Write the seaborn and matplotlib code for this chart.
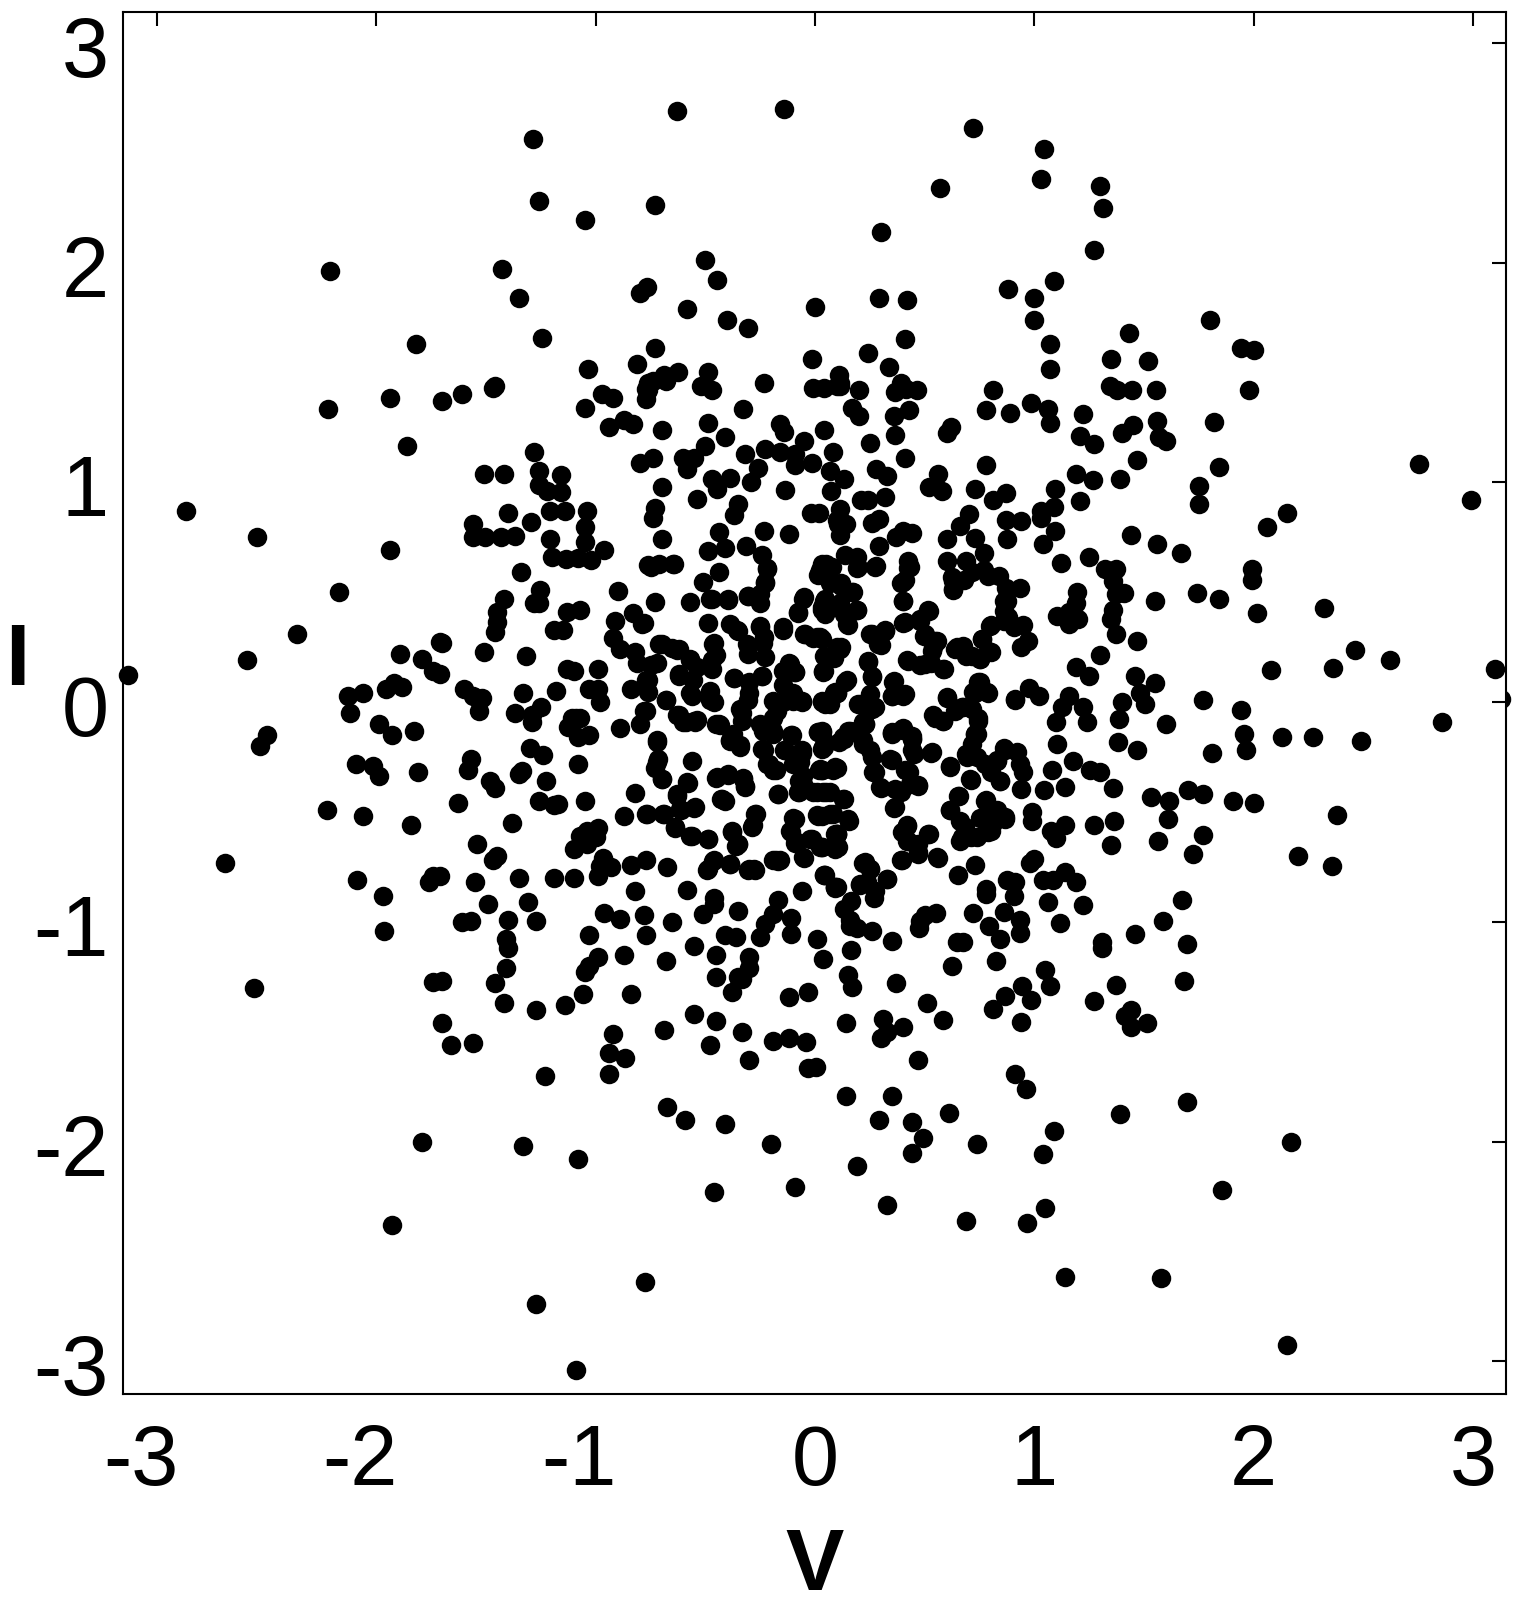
import numpy as np
import pandas as pd
import matplotlib
matplotlib.use('Agg')
import matplotlib.pyplot as plt
import matplotlib.transforms as mtrans
from matplotlib.patches import Rectangle
import seaborn as sns

# (V, I) pairs, one list per region
upper_left = [
    (-1.70,1.37),(-1.61,1.40),(-1.47,1.43),(-1.05,1.34),(-0.97,1.40),(-0.92,1.385),(-0.77,1.38),(-0.77,1.425),
    (-0.74,1.46),(-0.68,1.46),(-0.52,1.44),(-0.47,1.42),(-0.33,1.335),(-0.235,1.45),(-0.01,1.43),(0.04,1.43),
    (0.10,1.44),(-0.94,1.25),(-0.87,1.285),(-0.83,1.265),(-0.70,1.24),(-0.49,1.27),(-0.41,1.205),(-0.16,1.265),
    (-0.14,1.23),(0.04,1.24),(-0.05,1.19),(-1.28,1.14),(-0.50,1.165),(-0.32,1.13),(-0.23,1.15),(-0.16,1.14),
    (-0.09,1.13),(0.08,1.14),(-0.80,1.09),(-0.74,1.11),(-0.60,1.11),(-0.55,1.11),(-0.585,1.06),(-0.09,1.08),
    (-0.016,1.09),(0.07,1.05),(-1.51,1.04),(-1.42,1.04),(-1.26,1.05),(-1.16,1.035),(-1.26,0.99),(-1.22,0.96),
    (-1.16,0.955),(-0.26,1.065),(-0.29,1.0),(-0.47,1.015),(-0.39,1.02),(-0.445,0.97),(-0.135,0.966),(0.075,0.96),
    (-0.70,0.98),(-0.54,0.925),(-0.35,0.90),(-0.37,0.85),(-0.73,0.885),(-0.74,0.84),(-1.40,0.86),(-1.21,0.87),
    (-1.14,0.87),(-1.04,0.87),(-0.02,0.86),(0.02,0.86),(0.10,0.83),(-1.56,0.81),(-1.295,0.82),(-1.05,0.795),
    (-1.56,0.75),(-1.505,0.75),(-1.43,0.75),(-1.37,0.755),(-0.44,0.776),(-0.235,0.78),(-0.12,0.765),(-0.70,0.74),
    (-1.21,0.74),(-1.05,0.73),(-0.49,0.687),(-0.41,0.70),(-0.315,0.71),(-0.24,0.67),(-0.96,0.693),(-1.20,0.66),
    (-1.135,0.65),(-1.08,0.655),(-1.02,0.645),(-0.76,0.625),(-0.71,0.63),(-0.645,0.63),(-0.22,0.61),(-0.44,0.59),
    (0.03,0.63),(0.015,0.58),(-1.34,0.59),(-0.23,0.54),(-0.51,0.545),(-1.255,0.51),(-0.90,0.505),(0.07,0.54),
    (-0.05,0.48),(0.03,0.42),(0.07,0.43),(-0.305,0.485),(-0.57,0.455),(-0.48,0.47),(-0.395,0.465),(-0.25,0.45),
    (-0.73,0.455),(-1.42,0.47),(-1.28,0.45),(-1.26,0.45),(-0.08,0.405),(-1.45,0.41),(-1.07,0.42),(-1.13,0.41),
    (-0.83,0.405),(-1.45,0.365),(-1.46,0.32),(-0.91,0.37),(-0.79,0.355),(-0.49,0.36),(-1.19,0.33),(-1.15,0.33),
    (-0.39,0.355),(-0.35,0.325),(-0.25,0.345),(-0.235,0.295),(-0.145,0.34),(-0.05,0.31),(-0.01,0.29),(-0.92,0.29),
    (-0.46,0.27),(-0.71,0.265),(-0.65,0.245),(-0.62,0.24),(-0.89,0.24),(-0.82,0.23),(-1.51,0.23),(-1.70,0.27),
    (-1.32,0.21),(-0.57,0.195),(-0.45,0.215),(-0.305,0.22),(0.04,0.21),(-0.81,0.18),(-0.72,0.18),(-1.13,0.15),
    (-1.10,0.14),(-0.99,0.15),(-0.12,0.18),(-0.09,0.135),(-0.145,0.14),(0.04,0.14),(-0.47,0.15),(-0.54,0.16),
    (-0.62,0.12),(-0.37,0.11),(-0.24,0.12),(-0.30,0.09),(-1.71,0.13),(-0.76,0.10),(-1.60,0.06),(-1.56,0.03),
    (-1.52,0.02),(-1.53,-0.04),(-1.33,0.04),(-1.18,0.05),(-1.03,0.06),(-0.99,0.06),(-0.98,0.0),(-0.84,0.06),
    (-0.76,0.045),(-0.68,0.01),(-0.56,0.03),(-0.48,0.05),(-0.46,0.0),(-0.10,0.04),(-0.145,0.0),(-0.06,0.0),
    (0.03,0.0),(0.10,0.04),(-0.305,0.01),(-0.78,-0.04),(-1.37,-0.05),(-1.25,-0.02),(-1.29,-0.06),(-1.11,-0.07),
    (-1.07,-0.07),(-0.62,-0.06),(-0.335,-0.05),(-0.175,-0.04),
]

lower_left = [
    (-1.29,-0.09),(-1.09,-0.07),(-1.125,-0.115),(-1.08,-0.16),(-1.03,-0.15),(-0.89,-0.12),(-0.80,-0.10),
    (-0.59,-0.09),(-0.54,-0.08),(-0.45,-0.10),(-0.39,-0.175),(-0.34,-0.205),(-0.335,-0.085),(-0.25,-0.10),
    (-0.19,-0.13),(-0.235,-0.22),(-0.21,-0.28),(-0.18,-0.31),(-0.11,-0.15),(-0.14,-0.22),(-0.06,-0.23),
    (-0.10,-0.28),(0.015,-0.135),(0.04,-0.205),(0.11,-0.18),(0.02,-0.31),(0.08,-0.31),(-0.72,-0.18),(-0.715,-0.26),
    (-0.73,-0.30),(-0.70,-0.35),(-0.56,-0.27),(-1.30,-0.21),(-1.24,-0.24),(-1.57,-0.26),(-1.58,-0.31),(-1.48,-0.36),
    (-1.46,-0.39),(-1.08,-0.28),(-1.335,-0.315),(-1.35,-0.325),(-1.225,-0.36),(-0.45,-0.345),(-0.395,-0.33),
    (-0.33,-0.345),(-0.32,-0.38),(-0.58,-0.37),(-0.63,-0.42),(-0.82,-0.415),(-0.17,-0.42),(-0.075,-0.41),(-0.01,-0.41),
    (0.05,-0.41),(-0.075,-0.36),(-0.43,-0.44),(-0.41,-0.45),(-1.26,-0.45),(-1.19,-0.47),(-1.17,-0.465),(-1.05,-0.45),
    (-1.63,-0.46),(-0.55,-0.48),(-0.61,-0.49),(-0.77,-0.51),(-0.69,-0.51),(-0.87,-0.52),(-1.38,-0.55),(-0.10,-0.525),
    (0.01,-0.515),(0.08,-0.51),(-0.27,-0.51),(-0.64,-0.575),(-0.285,-0.56),(-0.38,-0.585),(-0.56,-0.61),(-0.49,-0.625),
    (-0.99,-0.575),(-1.04,-0.585),(-1.07,-0.61),(-1.00,-0.615),(-1.04,-0.645),(-1.10,-0.67),(-0.11,-0.59),(-0.015,-0.625),
    (0.10,-0.60),(-0.09,-0.64),(0.03,-0.66),(-1.54,-0.645),(-0.35,-0.645),(-0.36,-0.655),(-1.45,-0.70),(-1.47,-0.72),
    (-0.965,-0.71),(-0.77,-0.72),(-0.84,-0.74),(-0.93,-0.75),(-0.98,-0.745),(-0.675,-0.75),(-0.46,-0.72),(-0.39,-0.735),
    (-0.16,-0.72),(-0.18,-0.72),(-0.05,-0.71),(-0.49,-0.76),(-0.30,-0.76),(-0.28,-0.76),(-0.99,-0.79),(-1.19,-0.80),
    (-1.10,-0.80),(-1.35,-0.80),(-1.55,-0.82),(-1.71,-0.79),(0.04,-0.785),(0.09,-0.84),(-0.82,-0.86),(-0.585,-0.855),
    (-0.06,-0.86),(-0.46,-0.89),(-1.49,-0.92),(-1.31,-0.91),(-0.17,-0.90),(-0.46,-0.92),(-0.51,-0.965),(-0.35,-0.95),
    (-0.96,-0.96),(-0.89,-0.985),(-0.78,-0.97),(-1.61,-1.0),(-1.57,-0.995),(-1.40,-0.99),(-1.27,-0.995),(-0.65,-1.0),
    (-0.11,-0.98),(-0.19,-0.965),(-0.23,-1.01),(-1.03,-1.06),(-0.77,-1.06),(-0.41,-1.06),(-0.36,-1.07),(-0.25,-1.07),
    (-0.11,-1.055),(0.01,-1.08),(-1.41,-1.08),(-1.40,-1.12),(-0.55,-1.11),(-0.99,-1.16),(-0.87,-1.15),(-0.68,-1.18),
    (-0.45,-1.15),(-0.30,-1.16),(0.035,-1.17),(-1.41,-1.21),(-1.03,-1.20),(-0.30,-1.21),(-1.05,-1.23),(-0.45,-1.25),
    (-0.35,-1.25),(-0.335,-1.26),(-1.70,-1.27),(-1.46,-1.28),(-0.38,-1.32),(-1.06,-1.33),(-0.84,-1.33),(-0.12,-1.34),
    (-0.03,-1.32),(-1.42,-1.37),(-1.27,-1.40),(-1.14,-1.38),(-0.55,-1.42),(-0.45,-1.45),(-1.70,-1.46),(-0.69,-1.49),
    (-0.92,-1.51),(-0.335,-1.50),(-0.12,-1.53),(-0.19,-1.54),(-0.04,-1.545),(-1.56,-1.55),(-1.66,-1.56),(-0.48,-1.56),
]

upper_right = [
    (0.115,1.44),(0.20,1.42),(0.365,1.41),(0.415,1.425),(0.465,1.42),(0.39,1.45),(0.81,1.42),(1.345,1.44),(1.375,1.42),
    (1.445,1.42),(1.555,1.42),(0.17,1.34),(0.20,1.30),(0.36,1.30),(0.43,1.33),(0.78,1.33),(0.89,1.315),(0.985,1.36),
    (1.06,1.335),(1.07,1.27),(1.22,1.31),(0.25,1.18),(0.365,1.215),(0.62,1.25),(0.60,1.225),(1.21,1.21),(1.27,1.175),
    (1.40,1.225),(1.45,1.26),(1.56,1.28),(1.57,1.205),(1.60,1.19),(1.82,1.275),(0.41,1.11),(0.28,1.06),(0.33,1.03),
    (0.13,1.015),(0.56,1.04),(0.78,1.08),(1.19,1.04),(1.265,1.01),(1.47,1.10),(1.39,1.015),(1.84,1.07),(0.52,0.98),
    (0.58,0.96),(0.73,0.97),(1.095,0.97),(1.75,0.985),(0.21,0.92),(0.24,0.92),(0.32,0.935),(0.87,0.95),(0.81,0.92),
    (1.09,0.89),(1.21,0.915),(1.75,0.90),(1.03,0.87),(1.03,0.84),(0.70,0.855),(0.115,0.88),(0.14,0.81),(0.105,0.81),
    (0.29,0.835),(0.26,0.815),(0.87,0.83),(0.94,0.825),(0.66,0.80),(0.40,0.78),(0.37,0.75),(0.44,0.77),(1.095,0.78),
    (0.73,0.745),(0.60,0.74),(0.875,0.74),(0.115,0.76),(0.29,0.71),(1.04,0.72),(1.44,0.76),(1.56,0.72),(1.67,0.68),
    (0.77,0.68),(0.135,0.67),(0.19,0.66),(0.05,0.63),(0.28,0.62),(0.425,0.64),(0.425,0.61),(0.60,0.64),(0.69,0.64),
    (1.12,0.635),(1.25,0.66),(1.32,0.605),(1.37,0.605),(0.19,0.61),(0.77,0.60),(0.84,0.575),(0.41,0.555),(0.39,0.54),
    (0.12,0.54),(0.63,0.55),(0.68,0.555),(1.36,0.55),(0.935,0.52),(0.87,0.52),(0.63,0.51),(0.175,0.50),(0.04,0.46),
    (1.195,0.50),(1.41,0.495),(1.37,0.49),(1.74,0.495),(1.84,0.47),(1.55,0.46),(0.40,0.46),(0.115,0.45),(0.19,0.42),
    (0.86,0.46),(0.86,0.415),(0.52,0.415),(1.36,0.42),(1.35,0.38),(1.19,0.45),(1.16,0.41),(1.105,0.39),(1.20,0.38),
    (1.16,0.355),(0.13,0.40),(0.15,0.35),(0.40,0.36),(0.48,0.38),(0.80,0.35),(0.86,0.37),(0.95,0.35),(0.905,0.34),
    (0.25,0.31),(0.32,0.33),(0.30,0.26),(0.495,0.30),(0.555,0.28),(1.37,0.31),(0.76,0.285),(0.97,0.28),(0.94,0.25),
    (1.47,0.28),(0.12,0.25),(0.085,0.20),(0.03,0.285),(0.54,0.25),(0.64,0.24),(0.675,0.255),(0.80,0.23),(0.69,0.21),
    (0.75,0.195),(1.30,0.215),(0.24,0.185),(0.42,0.19),(0.48,0.17),(0.53,0.18),(0.59,0.15),(1.19,0.16),(1.25,0.12),
    (1.46,0.12),(1.55,0.085),(1.77,0.01),(0.26,0.12),(0.145,0.10),(0.36,0.095),(0.75,0.09),(0.975,0.065),(1.48,0.04),
    (0.79,0.04),(0.73,0.04),(0.40,0.03),(0.35,0.03),(0.085,0.04),(0.60,0.02),(0.91,0.01),(1.02,0.03),(1.16,0.03),
    (1.40,0.0),(1.505,-0.01),(1.125,-0.02),(1.22,-0.02),(0.26,-0.03),(0.21,-0.01),(0.045,-0.01),
]

lower_right = [
    (0.07,-0.01),(0.54,-0.06),(0.585,-0.085),(0.675,-0.02),(0.745,-0.07),(1.10,-0.09),(1.24,-0.09),(1.385,-0.075),
    (1.60,-0.10),(0.22,-0.09),(0.16,-0.13),(0.13,-0.17),(0.35,-0.14),(0.40,-0.12),(0.44,-0.17),(0.73,-0.145),(1.105,-0.19),
    (1.38,-0.18),(1.47,-0.22),(1.81,-0.23),(0.045,-0.18),(0.22,-0.19),(0.25,-0.22),(0.45,-0.235),(0.53,-0.23),(0.69,-0.235),
    (0.86,-0.21),(0.92,-0.225),(0.74,-0.25),(1.175,-0.27),(0.265,-0.32),(0.35,-0.265),(0.43,-0.32),(0.615,-0.29),(0.83,-0.27),
    (0.935,-0.28),(1.08,-0.31),(1.255,-0.31),(1.30,-0.32),(0.09,-0.30),(0.03,-0.31),(0.80,-0.32),(0.95,-0.32),(0.71,-0.355),
    (0.845,-0.36),(0.30,-0.39),(0.47,-0.38),(1.14,-0.385),(1.36,-0.39),(0.94,-0.395),(1.045,-0.40),(0.39,-0.41),(1.53,-0.43),
    (1.70,-0.40),(1.77,-0.42),(0.65,-0.425),(0.78,-0.445),(0.13,-0.44),(1.615,-0.45),(0.36,-0.48),(0.615,-0.49),(0.83,-0.49),
    (0.865,-0.53),(1.61,-0.53),(0.99,-0.50),(0.99,-0.54),(0.155,-0.54),(0.07,-0.51),(0.66,-0.54),(0.75,-0.525),(0.81,-0.55),
    (1.14,-0.56),(1.075,-0.585),(1.10,-0.62),(1.27,-0.56),(1.365,-0.54),(0.42,-0.56),(0.395,-0.59),(0.52,-0.60),(0.10,-0.60),
    (0.66,-0.63),(0.79,-0.59),(0.71,-0.615),(1.77,-0.605),(1.565,-0.63),(1.35,-0.65),(0.42,-0.63),(0.47,-0.645),(0.105,-0.66),
    (1.725,-0.69),(0.56,-0.71),(0.39,-0.72),(0.47,-0.69),(1.0,-0.715),(0.98,-0.73),(0.73,-0.74),(0.22,-0.73),(0.25,-0.76),
    (0.65,-0.785),(1.14,-0.775),(0.33,-0.805),(0.205,-0.83),(0.235,-0.82),(0.09,-0.845),(0.875,-0.81),(0.91,-0.82),(1.04,-0.81),
    (1.085,-0.81),(1.19,-0.82),(0.78,-0.85),(0.78,-0.875),(0.27,-0.89),(0.905,-0.88),(0.165,-0.905),(1.06,-0.91),(1.22,-0.925),
    (1.675,-0.90),(0.13,-0.94),(0.55,-0.96),(0.50,-0.97),(0.72,-0.96),(0.86,-0.955),(0.935,-0.99),(1.115,-1.005),(1.585,-0.995),
    (0.16,-0.99),(0.48,-0.995),(0.795,-1.02),(0.475,-1.03),(0.16,-1.02),(0.26,-1.04),(0.935,-1.05),(1.46,-1.055),(0.19,-1.03),
    (0.35,-1.085),(0.845,-1.08),(0.645,-1.09),(0.675,-1.09),(1.31,-1.09),(1.31,-1.12),(1.695,-1.10),(0.165,-1.13),(0.825,-1.18),
    (0.625,-1.20),(1.05,-1.22),(0.15,-1.24),(0.17,-1.295),(0.37,-1.28),(0.945,-1.29),(1.07,-1.29),(1.37,-1.285),(1.68,-1.27),
    (0.865,-1.335),(0.985,-1.355),(1.27,-1.36),(0.51,-1.37),(0.81,-1.395),(1.44,-1.40),(1.415,-1.43),(0.31,-1.44),(0.585,-1.445),
    (0.94,-1.455),(1.515,-1.46),(1.44,-1.48),(0.14,-1.46),(0.40,-1.48),(0.33,-1.50),(0.30,-1.53),
]

top_band = [
    (-0.63,2.69),(-0.14,2.70),(0.72,2.61),(1.045,2.515),(-1.285,2.56),(1.30,2.35),(1.03,2.38),(0.57,2.34),(-1.26,2.28),
    (1.315,2.25),(-0.73,2.26),(-1.05,2.195),(0.30,2.14),(1.27,2.055),(-0.50,2.01),(-2.21,1.96),(-1.425,1.97),(-0.445,1.92),
    (-0.765,1.89),(-0.80,1.86),(1.09,1.915),(0.88,1.88),(-1.35,1.84),(0.29,1.84),(0.42,1.83),(1.0,1.84),(0,1.80),(-0.585,1.79),
    (1.0,1.74),(-0.40,1.74),(-0.305,1.70),(1.80,1.74),(1.43,1.68),(-1.245,1.655),(0.41,1.65),(-1.82,1.63),(-0.73,1.61),(1.07,1.63),
    (1.94,1.61),(2.0,1.60),(0.24,1.59),(-0.015,1.56),(1.35,1.56),(1.52,1.55),(-0.81,1.54),(0.335,1.525),(1.07,1.515),(-1.035,1.515),
    (-0.625,1.50),(-0.49,1.50),(-0.69,1.49),(0.11,1.49),(0.115,1.45),(-0.76,1.45),(-0.76,1.42),(-1.46,1.44),(1.98,1.42),(-1.94,1.385),
    (-2.22,1.335),(-1.86,1.165),
]

left_band = [
    (-2.87,0.87),(-2.545,0.75),(-1.94,0.69),(-2.17,0.50),(-2.36,0.31),(-2.59,0.19),(-3.13,0.125),(-1.89,0.22),(-1.79,0.195),
    (-1.74,0.14),(-1.71,0.275),(-2.13,0.03),(-2.06,0.04),(-2.12,-0.05),(-1.955,0.06),(-1.92,0.085),(-1.885,0.07),(-1.99,-0.10),
    (-1.93,-0.15),(-1.83,-0.13),(-2.50,-0.15),(-2.53,-0.20),(-2.095,-0.28),(-2.015,-0.29),(-1.99,-0.335),(-1.81,-0.32),(-2.225,-0.49),
    (-2.06,-0.52),(-1.84,-0.56),(-2.69,-0.73),(-2.09,-0.81),(-1.97,-0.88),(-1.965,-1.04),(-2.56,-1.30),(-1.74,-0.79),(-1.76,-0.82),
    (-1.74,-1.275),(-1.79,-2.0),(-1.93,-2.38),
]

bottom_band = [
    (-0.94,-1.595),(-0.865,-1.62),(-0.94,-1.69),(-1.23,-1.70),(-0.30,-1.63),(0.47,-1.63),(-0.03,-1.665),(0.005,-1.66),(-0.675,-1.84),
    (-0.595,-1.90),(-0.41,-1.92),(0.14,-1.79),(0.35,-1.79),(0.91,-1.69),(0.96,-1.76),(0.29,-1.90),(0.44,-1.91),(0.61,-1.87),(1.695,-1.82),
    (1.39,-1.875),(0.49,-1.985),(0.44,-2.05),(0.74,-2.01),(1.09,-1.95),(1.04,-2.055),(2.17,-2.0),(-0.20,-2.01),(-1.33,-2.02),(-1.08,-2.08),
    (0.19,-2.11),(-0.09,-2.205),(-0.46,-2.23),(1.855,-2.22),(0.33,-2.29),(1.05,-2.30),(0.69,-2.36),(0.965,-2.37),(1.14,-2.615),(1.575,-2.62),
    (-0.775,-2.64),(-1.27,-2.74),(2.15,-2.925),(-1.09,-3.04),
]

right_band = [
    (2.755,1.085),(2.99,0.92),(2.15,0.86),(2.06,0.795),(1.99,0.605),(1.99,0.555),(2.015,0.405),(2.32,0.43),(2.08,0.145),(2.46,0.235),
    (2.36,0.155),(2.62,0.19),(3.10,0.15),(1.94,-0.035),(1.955,-0.145),(1.965,-0.22),(2.13,-0.16),(2.27,-0.16),(2.49,-0.175),(2.86,-0.09),
    (1.905,-0.45),(2.0,-0.46),(2.38,-0.515),(2.20,-0.70),(2.355,-0.745),
]

# points inside the merged blobs around the centre
center_upper = [
    (-0.70,0.265),(-0.63,0.235),(-0.57,0.19),(-0.465,0.265),(-0.47,0.19),(-0.62,0.13),(-0.75,0.17),(-0.77,0.10),(-0.555,0.10),
    (-0.57,0.04),(-0.48,0.01),(-0.68,0.01),(-0.63,-0.06),(-0.55,-0.085),(-0.44,-0.10),(-0.34,-0.03),(-0.30,0.04),(-0.24,0.12),
    (-0.37,0.11),(-0.395,0.47),(-0.47,0.47),(-0.357,0.33),(-0.31,0.265),(-0.25,0.34),(-0.236,0.27),(-0.144,0.33),(-0.046,0.31),
    (0.008,0.295),(-0.228,0.204),(-0.25,0.49),(-0.304,0.485),(-0.228,0.546),(-0.22,0.607),(-0.114,0.174),(-0.09,0.135),(-0.144,0.08),
    (-0.19,0.006),(-0.10,0.006),(-0.06,0.006),(-0.19,-0.07),(-0.236,-0.13),(0.03,0.006),(0.07,0.006),(0.10,0.04),(0.038,0.135),
    (0.053,0.204),(0.10,0.25),(0.03,0.432),(0.076,0.432),(-0.053,0.47),(-0.076,0.41),(0.023,0.60),(0.076,0.615),(-0.77,-0.04),
    (-0.78,0.36),(-0.75,0.614),(-0.646,0.63),(0.04,0.60),(0.12,0.53),(0.167,0.50),(0.046,0.47),(0.19,0.417),(0.046,0.40),(0.144,0.356),
    (0.023,0.295),(0.114,0.242),(0.06,0.204),(0.038,0.143),(0.198,0.614),(0.274,0.614),(0.433,0.614),(0.403,0.546),(0.403,0.462),
    (0.63,0.515),(0.623,0.569),(0.714,0.59),(0.79,0.576),(0.874,0.462),(0.88,0.386),(0.798,0.348),(0.76,0.288),(0.258,0.31),(0.319,0.325),
    (0.289,0.265),(0.41,0.363),(0.517,0.417),(0.479,0.371),(0.50,0.31),(0.547,0.28),(0.532,0.234),(0.426,0.189),(0.50,0.174),(0.585,0.15),
    (0.646,0.25),(0.714,0.21),(0.752,0.196),(0.79,0.234),(0.243,0.181),(0.258,0.113),(0.25,0.037),(0.198,-0.009),(0.137,0.09),(0.091,0.044),
    (0.046,-0.001),(0.274,-0.024),(0.357,0.09),(0.41,0.037),(0.35,0.029),(0.745,0.09),(0.783,0.044),(0.722,0.044),(0.60,0.022),(0.669,-0.024),
    (0.714,-0.032),(0.745,-0.085),(0.547,-0.07),(0.585,-0.085),(0.73,-0.145),(0.638,-0.04),(0.395,-0.123),(0.35,-0.146),(0.44,-0.153),
    (0.152,-0.13),(0.228,-0.10),(0.03,-0.13),(0.912,0.014),
]

center_lower = [
    (-0.60,-0.09),(-0.547,-0.09),(-0.433,-0.106),(-0.372,-0.144),(-0.342,-0.197),(-0.388,-0.174),(-0.236,-0.113),(-0.19,-0.144),
    (-0.243,-0.212),(-0.22,-0.28),(-0.19,-0.31),(-0.106,-0.151),(-0.137,-0.22),(-0.06,-0.22),(-0.068,-0.273),(-0.053,-0.334),(0.015,-0.136),
    (0.038,-0.205),(0.03,-0.31),(0.10,-0.30),(-0.076,-0.41),(0.008,-0.41),(0.068,-0.41),(-0.053,-0.372),(-0.167,-0.42),(-0.72,-0.174),
    (-0.72,-0.273),(-0.70,-0.349),(-0.585,-0.364),(-0.63,-0.425),(-0.616,-0.486),(-0.547,-0.478),(-0.768,-0.509),(-0.692,-0.509),(-0.638,-0.57),
    (-0.57,-0.607),(-0.486,-0.623),(-0.448,-0.341),(-0.395,-0.326),(-0.327,-0.349),(-0.319,-0.387),(-0.426,-0.443),(-0.274,-0.509),(-0.289,-0.569),
    (-0.38,-0.592),(-0.35,-0.645),(-0.464,-0.721),(-0.494,-0.762),(-0.388,-0.737),(-0.304,-0.762),(-0.274,-0.762),(-0.167,-0.721),(-0.19,-0.72),
    (-0.053,-0.706),(-0.091,-0.531),(-0.114,-0.585),(-0.084,-0.638),(-0.023,-0.623),(0.023,-0.66),(0.091,-0.60),(0.015,-0.516),(0.091,-0.668),
    (0.043,-0.785),(0.099,-0.843),(0.03,-0.136),(0.03,-0.212),(0.129,-0.159),(0.198,-0.129),(0.228,-0.098),(0.22,-0.174),(0.258,-0.25),
    (0.274,-0.319),(0.342,-0.258),(0.41,-0.311),(0.471,-0.379),(0.296,-0.387),(0.365,-0.395),(0.433,-0.372),(0.365,-0.478),(0.441,-0.22),
    (0.532,-0.227),(0.35,-0.136),(0.403,-0.129),(0.441,-0.167),(0.023,-0.303),(0.091,-0.296),(0.038,-0.41),(0.129,-0.44),(0.03,-0.516),
    (0.152,-0.531),(0.099,-0.60),(0.099,-0.661),(0.03,-0.661),(0.418,-0.562),(0.426,-0.63),(0.471,-0.683),(0.517,-0.60),(0.395,-0.718),
    (0.555,-0.706),(0.692,-0.25),(0.737,-0.144),(0.714,-0.189),(0.616,-0.293),(0.707,-0.349),(0.775,-0.281),(0.844,-0.357),(0.866,-0.22),
    (0.828,-0.265),(0.654,-0.425),(0.616,-0.493),(0.669,-0.615),(0.775,-0.448),(0.80,-0.585),(0.866,-0.524),(0.737,-0.615),(0.806,-0.493),
    (0.684,-0.569),(0.228,-0.729),(0.251,-0.759),(0.327,-0.805),(0.205,-0.828),(0.274,-0.858),(0.046,-0.785),(0.091,-0.843),
]

# sits on the right frame, only the part outside the frame shows
edge_v = [3.125]
edge_i = [0.015]

tick_vals = [-3, -2, -1, 0, 1, 2, 3]
tick_labels = ['-3', '-2', '-1', '0', '1', '2', '3']

all_pts = (upper_left + lower_left + upper_right + lower_right + top_band + left_band
           + bottom_band + right_band + center_upper + center_lower)
df = pd.DataFrame(all_pts, columns=['V', 'I'])

sns.set_style('white')
plt.rcParams['font.family'] = ['Liberation Sans', 'DejaVu Sans']
plt.rcParams['text.color'] = 'black'

fig = plt.figure(figsize=(15.21, 16), dpi=100)
ax = fig.add_axes([123 / 1521, (1600 - 1394) / 1600, (1506 - 123) / 1521, (1394 - 12) / 1600])

sns.scatterplot(data=df, x='V', y='I', ax=ax, color='black', s=197, linewidth=0, clip_on=False)

edge = ax.scatter(edge_v, edge_i, color='black', s=197, linewidth=0, clip_on=True)
edge.set_clip_path(Rectangle((1.0, 0.0), 0.02, 1.0, transform=ax.transAxes))

ax.set_xlim(-3.155, 3.15)
ax.set_ylim(-3.148, 3.14)
ax.set_xticks(tick_vals)
ax.set_xticklabels(tick_labels)
ax.set_yticks(tick_vals)
ax.set_yticklabels(tick_labels)
ax.tick_params(direction='in', length=10, width=1.5, top=True, right=True, labelsize=61, color='black', labelcolor='black')
ax.tick_params(axis='x', pad=21)
ax.tick_params(axis='y', pad=10)
for s in ax.spines.values():
    s.set_visible(True)
    s.set_linewidth(1.5)
    s.set_color('black')

# the minus sign hangs left of the tick, the digit stays centred on it
hang = mtrans.ScaledTranslation(-16.5 / 100, 0, fig.dpi_scale_trans)
for lab, val in zip(ax.get_xticklabels(), tick_vals):
    if val < 0:
        lab.set_transform(lab.get_transform() + hang)
down = mtrans.ScaledTranslation(0, -3 / 100, fig.dpi_scale_trans)
for lab in ax.get_yticklabels():
    lab.set_transform(lab.get_transform() + down)

ax.set_xlabel('')
ax.set_ylabel('')
fig.text(815 / 1521, 1 - 1568 / 1600, 'V', fontsize=63, fontweight='bold', ha='center', va='center')
fig.text(17 / 1521, 1 - 662 / 1600, 'I', fontsize=63, fontweight='bold', ha='center', va='center')

fig.savefig('out.png', dpi=100)
plt.close()
